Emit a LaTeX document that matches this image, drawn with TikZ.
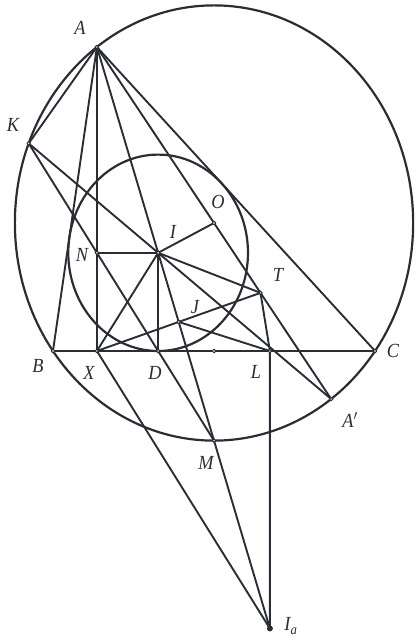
\documentclass[tikz,border=0pt]{standalone}
\usepackage{fontspec}
\usepackage{graphicx}
\setmainfont{Liberation Serif}
\definecolor{ink}{RGB}{42,46,52}
\newcommand{\squishtxt}[1]{\scalebox{0.915}[1]{#1}}
\begin{document}
\begin{tikzpicture}[x=0.915pt,y=1pt,line join=round,line cap=round,
  ln/.style={draw=ink,line width=1.9pt},
  circ/.style={draw=ink,line width=2.2pt},
  dotp/.style={draw=ink,fill=white,line width=1pt},
  lab/.style={text=ink,inner sep=0pt,font=\fontsize{20}{20}\selectfont\itshape}]
\useasboundingbox (-57.9,-287) rectangle (396.75,351);
% points
\coordinate (A) at (48,304);
\coordinate (B) at (0,0);
\coordinate (C) at (352,0);
\coordinate (O) at (176,128);
\coordinate (I) at (114.922,98.201);
\coordinate (D) at (114.922,0);
\coordinate (X) at (48,0);
\coordinate (N) at (48,98.201);
\coordinate (L) at (237.078,0);
\coordinate (Ia) at (237.078,-277.45);
\coordinate (M) at (176,-89.623);
\coordinate (Ap) at (304,-48);
\coordinate (K) at (-26.548,207.590);
\coordinate (J) at (137.402,29.073);
\coordinate (T) at (226.804,58.146);
\coordinate (P) at (176,0);
% circles
\draw[circ] (O) ellipse [x radius=199.13pt, y radius=217.62pt];
\draw[circ] (I) ellipse [x radius=89.85pt, y radius=98.2pt];
% lines
\draw[ln] (A) -- (B) -- (C) -- cycle;
\draw[ln] (A) -- (K);
\draw[ln] (A) -- (X);
\draw[ln] (A) -- (Ia);
\draw[ln] (A) -- (Ap);
\draw[ln] (K) -- (Ap);
\draw[ln] (K) -- (M);
\draw[ln] (N) -- (I) -- (D);
\draw[ln] (I) -- (X);
\draw[ln] (I) -- (O);
\draw[ln] (I) -- (T);
\draw[ln] (X) -- (T);
\draw[ln] (J) -- (L);
\draw[ln] (T) -- (L) -- (Ia);
\draw[ln] (X) -- (Ia);
% dots
\foreach \p in {A,K,B,C,X,D,P,L,Ap,N,I,O,T,J,M}
  \draw[dotp] (\p) circle [radius=1.8pt];
\fill[ink] (Ia) circle [radius=3pt];
% labels
\node[lab] (lA) at (29.5,323) {\squishtxt{A}};
\node[lab] (lK) at (-43.7,226) {\squishtxt{K}};
\node[lab] (lO) at (180.4,149) {\squishtxt{O}};
\node[lab] (lI) at (131.2,119) {\squishtxt{I}};
\node[lab] (lN) at (31.7,96) {\squishtxt{N}};
\node[lab] (lT) at (245.9,76) {\squishtxt{T}};
\node[lab] (lJ) at (155.2,44) {\squishtxt{J}};
\node[lab] (lB) at (-16.4,-15) {\squishtxt{B}};
\node[lab] (lX) at (39.4,-22) {\squishtxt{X}};
\node[lab] (lD) at (111.5,-22) {\squishtxt{D}};
\node[lab] (lL) at (221.9,-21) {\squishtxt{L}};
\node[lab] (lC) at (371.6,0) {\squishtxt{C}};
\node[lab] (lAp) at (324.6,-69) {\squishtxt{A$'$}};
\node[lab] (lM) at (167.2,-112) {\squishtxt{M}};
\node[lab] (lIa) at (260.1,-275) {\squishtxt{I\textsubscript{a}}};
\end{tikzpicture}
\end{document}
